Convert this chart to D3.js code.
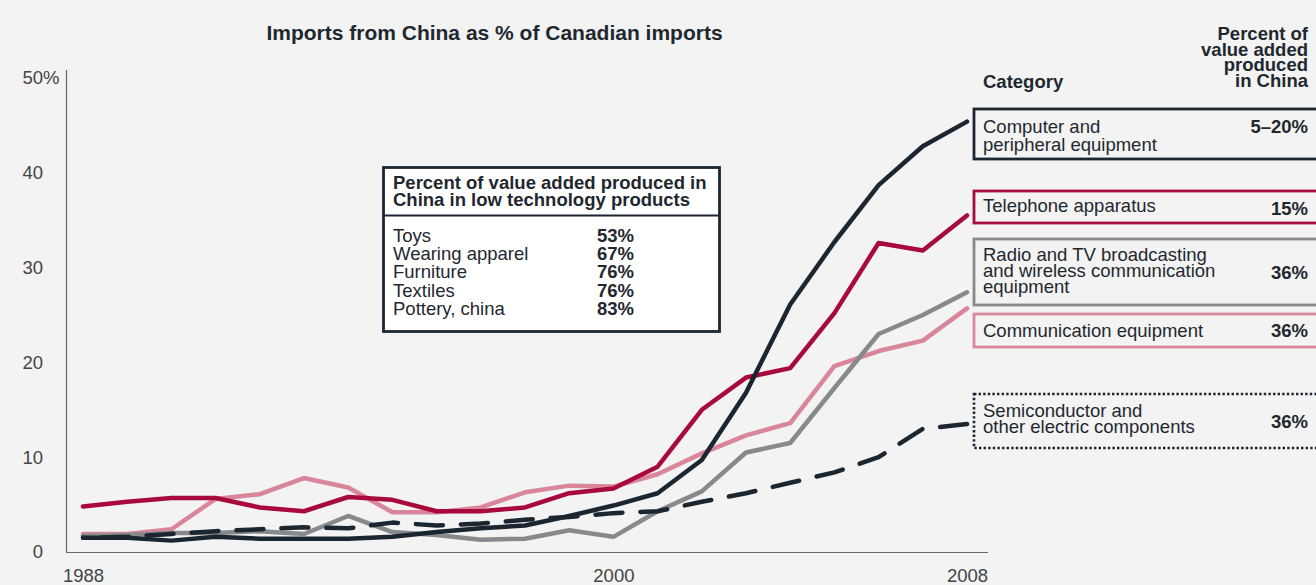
<!DOCTYPE html>
<html>
<head>
<meta charset="utf-8">
<script src="https://cdn.jsdelivr.net/npm/d3@7"></script>
<style>
  html, body { margin: 0; padding: 0; background: #f2f3f2; }
  svg { display: block; font-family: "Liberation Sans", Arial, Helvetica, sans-serif; }
</style>
</head>
<body>
<svg id="chart" width="1316" height="585"></svg>
<script>
// ---- Data -------------------------------------------------------------
const years = [1988, 1989, 1990, 1991, 1992, 1993, 1994, 1995, 1996, 1997, 1998,
               1999, 2000, 2001, 2002, 2003, 2004, 2005, 2006, 2007, 2008];

// Imports from China as % of Canadian imports, by category
const computerEquipment = [1.5, 1.5, 1.2, 1.6, 1.4, 1.4, 1.4, 1.6, 2.1, 2.5, 2.8,
                           3.8, 4.9, 6.2, 9.7, 16.8, 26.1, 32.7, 38.7, 42.8, 45.4];
const telephoneApparatus = [4.8, 5.3, 5.7, 5.7, 4.7, 4.3, 5.8, 5.5, 4.3, 4.3, 4.7,
                            6.2, 6.7, 9.0, 15.0, 18.4, 19.4, 25.2, 32.6, 31.8, 35.5];
const radioTvEquipment = [1.7, 1.8, 2.0, 2.0, 2.2, 1.9, 3.8, 2.1, 1.8, 1.3, 1.4,
                          2.3, 1.6, 4.3, 6.4, 10.5, 11.5, 17.3, 23.0, 25.0, 27.4];
const communicationEquipment = [1.9, 1.9, 2.4, 5.6, 6.1, 7.8, 6.8, 4.2, 4.2, 4.7, 6.3,
                                7.0, 6.9, 8.2, 10.4, 12.3, 13.6, 19.6, 21.2, 22.3, 25.7];
const semiconductors = [1.5, 1.6, 1.9, 2.2, 2.4, 2.6, 2.5, 3.1, 2.8, 3.0, 3.4,
                        3.7, 4.1, 4.3, 5.3, 6.2, 7.3, 8.4, 10.0, 13.0, 13.5];

const categoryLabels = [
  ["Computer and", "peripheral equipment"],
  ["Telephone apparatus"],
  ["Radio and TV broadcasting", "and wireless communication", "equipment"],
  ["Communication equipment"],
  ["Semiconductor and", "other electric components"]
];
const valueAddedInChina = ["5–20%", "15%", "36%", "36%", "36%"];

const lowTechProducts = ["Toys", "Wearing apparel", "Furniture", "Textiles", "Pottery, china"];
const lowTechValueAdded = [53, 67, 76, 76, 83];

const yTicks = [0, 10, 20, 30, 40, 50];
const xTicks = [1988, 2000, 2008];

// ---- Styles -----------------------------------------------------------
const DARK = "#1b2631", CRIMSON = "#a80a3c", PINK = "#d9869b", GRAY = "#87898c";
const TEXT = "#1f282f", AXIS_TEXT = "#444";
const DASH = 27, GAP = 18;

const series = [
  { values: communicationEquipment, color: PINK,    dashed: false },
  { values: radioTvEquipment,       color: GRAY,    dashed: false },
  { values: semiconductors,         color: DARK,    dashed: true },
  { values: telephoneApparatus,     color: CRIMSON, dashed: false },
  { values: computerEquipment,      color: DARK,    dashed: false }
];

// ---- Scales & axes ----------------------------------------------------
const svg = d3.select("#chart");
const x = d3.scaleLinear().domain([1988, 2008]).range([83, 967]);
const y = d3.scaleLinear().domain([0, 50]).range([552, 78]);

svg.append("text")
  .attr("x", 494.5).attr("y", 39.5)
  .attr("text-anchor", "middle")
  .attr("font-size", 21).attr("font-weight", "bold").attr("fill", TEXT)
  .text("Imports from China as % of Canadian imports");

// axis rules
svg.append("line").attr("x1", 66.5).attr("x2", 66.5).attr("y1", 70).attr("y2", y(0))
  .attr("stroke", "#666").attr("stroke-width", 1.2);
svg.append("line").attr("x1", 66).attr("x2", 988).attr("y1", y(0) + 0.5).attr("y2", y(0) + 0.5)
  .attr("stroke", "#666").attr("stroke-width", 1.2);

const yAxis = svg.append("g").attr("transform", "translate(66.5,0)")
  .call(d3.axisLeft(y).tickValues(yTicks).tickSize(0).tickPadding(23.5));
yAxis.select(".domain").remove();
yAxis.selectAll("text").attr("font-size", 18.5).attr("fill", AXIS_TEXT)
  .attr("font-family", "Liberation Sans, Arial, sans-serif");
// percent sign hanging after the top tick value
svg.append("text").attr("x", 43).attr("y", y(50)).attr("dy", "0.32em")
  .attr("font-size", 18.5).attr("fill", AXIS_TEXT).text("%");

const xAxis = svg.append("g").attr("transform", `translate(0,${y(0)})`)
  .call(d3.axisBottom(x).tickValues(xTicks).tickSize(0).tickPadding(17).tickFormat(d3.format("d")));
xAxis.select(".domain").remove();
xAxis.selectAll("text").attr("font-size", 18.5).attr("fill", AXIS_TEXT)
  .attr("font-family", "Liberation Sans, Arial, sans-serif");

// ---- Lines ------------------------------------------------------------
const line = d3.line().x((d, i) => x(years[i])).y(d => y(d));
svg.append("g").selectAll("path").data(series).join("path")
  .attr("d", d => line(d.values))
  .attr("fill", "none")
  .attr("stroke", d => d.color)
  .attr("stroke-width", 4.5)
  .attr("stroke-linejoin", "round")
  .attr("stroke-linecap", "round")
  .attr("stroke-dasharray", d => d.dashed ? `${DASH},${GAP}` : null)
  .each(function (d) {
    if (!d.dashed) return;
    // phase the dash pattern so the line finishes on a full dash
    const len = this.getTotalLength();
    const period = DASH + GAP;
    const offset = ((DASH - len) % period + period) % period;
    d3.select(this).attr("stroke-dashoffset", offset);
  });

// ---- Low technology table ---------------------------------------------
const table = svg.append("g");
table.append("rect").attr("x", 383.5).attr("y", 167.5).attr("width", 336).attr("height", 164)
  .attr("fill", "#fff").attr("stroke", DARK).attr("stroke-width", 2.8);
table.append("line").attr("x1", 383.5).attr("x2", 719.5).attr("y1", 215.5).attr("y2", 215.5)
  .attr("stroke", DARK).attr("stroke-width", 2.2);
table.append("text").attr("x", 393).attr("y", 189)
  .attr("font-size", 18.5).attr("font-weight", "bold").attr("fill", TEXT)
  .selectAll("tspan").data(["Percent of value added produced in", "China in low technology products"])
  .join("tspan").attr("x", 393).attr("dy", (d, i) => i ? 17 : 0).text(d => d);
table.selectAll("text.prod").data(lowTechProducts).join("text").attr("class", "prod")
  .attr("x", 393).attr("y", (d, i) => 241.5 + i * 18.4)
  .attr("font-size", 18.5).attr("fill", TEXT).text(d => d);
table.selectAll("text.share").data(lowTechValueAdded).join("text").attr("class", "share")
  .attr("x", 597).attr("y", (d, i) => 241.5 + i * 18.4)
  .attr("font-size", 18.5).attr("font-weight", "bold").attr("fill", TEXT).text(d => d + "%");

// ---- Category legend --------------------------------------------------
svg.append("text").attr("x", 983).attr("y", 87.5)
  .attr("font-size", 18.5).attr("font-weight", "bold").attr("fill", TEXT).text("Category");
svg.append("text").attr("text-anchor", "end")
  .attr("font-size", 18.5).attr("font-weight", "bold").attr("fill", TEXT)
  .selectAll("tspan").data(["Percent of", "value added", "produced", "in China"])
  .join("tspan").attr("x", 1308).attr("y", (d, i) => 40 + i * 15.7).text(d => d);

const legendLayout = [
  { top: 109, bottom: 159, line1: 133,   step: 18, valueY: 133,   color: DARK,    dotted: false },
  { top: 191, bottom: 223, line1: 211.5, step: 16, valueY: 215,   color: CRIMSON, dotted: false },
  { top: 239, bottom: 305, line1: 261,   step: 16, valueY: 279,   color: GRAY,    dotted: false },
  { top: 314, bottom: 347, line1: 336.5, step: 16, valueY: 336.5, color: PINK,    dotted: false },
  { top: 394, bottom: 448, line1: 417,   step: 16, valueY: 428,   color: DARK,    dotted: true }
];

const legend = svg.append("g").selectAll("g").data(legendLayout).join("g");
legend.append("rect")
  .attr("x", 974).attr("y", d => d.top)
  .attr("width", 370).attr("height", d => d.bottom - d.top)
  .attr("fill", "none").attr("stroke", d => d.color)
  .attr("stroke-width", d => d.dotted ? 2.6 : 2.8)
  .attr("stroke-dasharray", d => d.dotted ? "2.4,2.2" : null);
legend.append("text")
  .attr("font-size", 18.5).attr("fill", TEXT)
  .selectAll("tspan").data((d, i) => categoryLabels[i].map(t => ({ t, d })))
  .join("tspan").attr("x", 983).attr("y", (o, j) => o.d.line1 + j * o.d.step).text(o => o.t);
legend.append("text")
  .attr("x", 1308).attr("y", d => d.valueY).attr("text-anchor", "end")
  .attr("font-size", 18.5).attr("font-weight", "bold").attr("fill", TEXT)
  .text((d, i) => valueAddedInChina[i]);
</script>
</body>
</html>
